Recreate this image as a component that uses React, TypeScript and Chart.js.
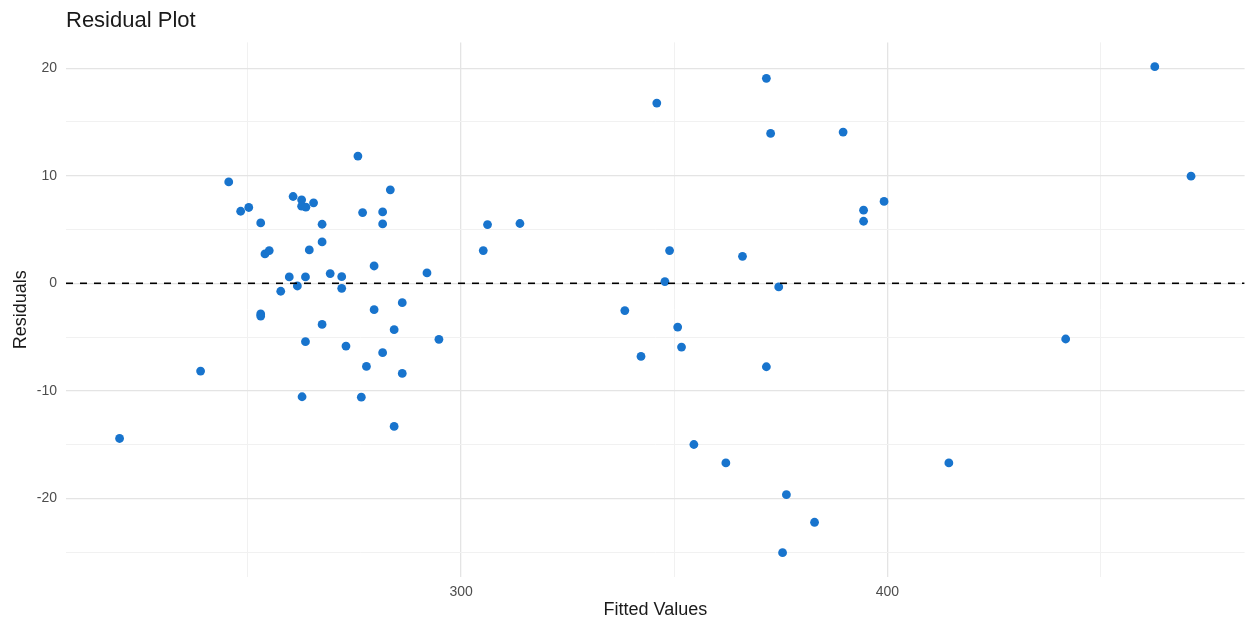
import React, { useEffect, useRef } from 'react';
import { Chart, registerables } from 'chart.js';

Chart.register(...registerables);

// ---- data ----
const fittedValues = [
  245.5, 248.3, 250.2, 253.0, 254.0, 255.0, 260.6, 262.6, 262.6, 263.6,
  265.4, 267.4, 267.4, 264.4, 275.8, 276.9, 281.6, 281.6, 283.4, 279.6,
  292.0, 259.7, 261.6, 257.7, 263.5, 269.3, 272.0, 272.0, 253.0, 253.0,
  267.4, 263.5, 273.0, 238.9, 262.7, 276.6, 219.9, 279.6, 286.2, 284.3,
  294.8, 281.6, 277.8, 286.2, 284.3, 305.2, 306.2, 313.8, 345.9, 338.4,
  342.2, 371.6, 372.6, 389.6, 399.2, 394.4, 394.4, 348.9, 366.0, 347.8,
  374.5, 350.8, 351.7, 371.6, 354.6, 362.1, 376.3, 382.9, 375.4, 414.4,
  462.7, 471.2, 441.8,
];
const residuals = [
  9.43, 6.70, 7.05, 5.61, 2.73, 3.04, 8.07, 7.76, 7.17, 7.08,
  7.48, 5.49, 3.85, 3.10, 11.83, 6.58, 6.64, 5.52, 8.69, 1.61,
  0.96, 0.59, -0.25, -0.74, 0.59, 0.90, 0.62, -0.47, -2.85, -3.05,
  -3.82, -5.43, -5.84, -8.16, -10.55, -10.59, -14.43, -2.45, -1.80, -4.31,
  -5.21, -6.45, -7.73, -8.38, -13.31, 3.04, 5.46, 5.56, 16.76, -2.54,
  -6.80, 19.06, 13.94, 14.06, 7.61, 6.80, 5.77, 3.04, 2.51, 0.16,
  -0.34, -4.07, -5.93, -7.76, -14.99, -16.70, -19.65, -22.22, -25.05, -16.70,
  20.14, 9.96, -5.18,
];
const xTickValues = [250, 300, 350, 400, 450];
const xLabelledTicks = [300, 400];
const yTickValues = [-25, -20, -15, -10, -5, 0, 5, 10, 15, 20];
const yLabelledTicks = [-20, -10, 0, 10, 20];
const referenceLineY = 0;
const chartTitle = 'Residual Plot';
const xTitle = 'Fitted Values';
const yTitle = 'Residuals';

const FONT = '"Liberation Sans", Arial, Helvetica, sans-serif';
const POINT_COLOR = '#1874CD';
const MAJOR_GRID = '#e4e4e4';
const MINOR_GRID = '#f1f1f1';

function expandRange(vals: number[]): [number, number] {
  const lo = Math.min(...vals);
  const hi = Math.max(...vals);
  const pad = (hi - lo) * 0.05;
  return [lo - pad, hi + pad];
}

export default function App() {
  const canvasRef = useRef<HTMLCanvasElement | null>(null);

  useEffect(() => {
    if (!canvasRef.current) return;
    const [xMin, xMax] = expandRange(fittedValues);
    const [yMin, yMax] = expandRange(residuals);

    const points = fittedValues.map((x, i) => ({ x, y: residuals[i] }));
    const refLine = [
      { x: xMin, y: referenceLineY },
      { x: xMax, y: referenceLineY },
    ];

    const chart = new Chart(canvasRef.current, {
      type: 'scatter',
      data: {
        datasets: [
          {
            label: 'zero',
            data: refLine,
            showLine: true,
            borderColor: '#000000',
            borderWidth: 1.6,
            borderDash: [7, 7],
            pointRadius: 0,
            order: 0,
          } as any,
          {
            label: 'Residuals',
            data: points,
            backgroundColor: POINT_COLOR,
            borderWidth: 0,
            pointRadius: 4.4,
            order: 1,
          },
        ],
      },
      options: {
        animation: false,
        responsive: true,
        maintainAspectRatio: false,
        devicePixelRatio: 1,
        layout: { padding: { left: 0, right: 4, top: 0, bottom: 0 } },
        plugins: {
          legend: { display: false },
          tooltip: { enabled: false },
          title: {
            display: true,
            text: chartTitle,
            align: 'start',
            fullSize: false,
            color: '#1a1a1a',
            font: { family: FONT, size: 22, weight: 'normal', lineHeight: 1.2 },
            padding: { top: 8, bottom: 8 },
          } as any,
        },
        scales: {
          x: {
            type: 'linear',
            position: 'bottom',
            min: xMin,
            max: xMax,
            afterBuildTicks: (scale: any) => {
              scale.ticks = xTickValues.map((v) => ({ value: v }));
            },
            afterFit: (scale: any) => {
              scale.height = 45;
            },
            ticks: {
              padding: 6.5,
              color: '#4d4d4d',
              font: { family: FONT, size: 14, lineHeight: 1.2 },
              maxRotation: 0,
              autoSkip: false,
              callback: (v: any) => (xLabelledTicks.includes(Number(v)) ? String(v) : ''),
            },
            grid: {
              drawTicks: false,
              color: (ctx: any) => (xLabelledTicks.includes(ctx.tick?.value) ? MAJOR_GRID : MINOR_GRID),
              lineWidth: (ctx: any) => (xLabelledTicks.includes(ctx.tick?.value) ? 1.3 : 1),
            },
            border: { display: false },
            title: {
              display: true,
              text: xTitle,
              color: '#1a1a1a',
              font: { family: FONT, size: 18, lineHeight: 1.2 },
              padding: { top: 2, bottom: 1 },
            },
          },
          y: {
            type: 'linear',
            min: yMin,
            max: yMax,
            afterBuildTicks: (scale: any) => {
              scale.ticks = yTickValues.map((v) => ({ value: v }));
            },
            afterFit: (scale: any) => {
              scale.width = 66;
            },
            ticks: {
              padding: 9,
              color: '#4d4d4d',
              font: { family: FONT, size: 14, lineHeight: 1.2 },
              autoSkip: false,
              callback: (v: any) => (yLabelledTicks.includes(Number(v)) ? String(v) : ''),
            },
            grid: {
              drawTicks: false,
              color: (ctx: any) => (yLabelledTicks.includes(ctx.tick?.value) ? MAJOR_GRID : MINOR_GRID),
              lineWidth: (ctx: any) => (yLabelledTicks.includes(ctx.tick?.value) ? 1.3 : 1),
            },
            border: { display: false },
            title: {
              display: true,
              text: yTitle,
              color: '#1a1a1a',
              font: { family: FONT, size: 18, lineHeight: 1.2 },
              padding: { top: 10, bottom: 0 },
            },
          },
        },
      },
    });

    return () => chart.destroy();
  }, []);

  return (
    <div
      style={{
        position: 'fixed',
        left: 0,
        top: 0,
        width: 1249,
        height: 622,
        background: '#ffffff',
      }}
    >
      <canvas ref={canvasRef} style={{ width: '100%', height: '100%' }} />
    </div>
  );
}
